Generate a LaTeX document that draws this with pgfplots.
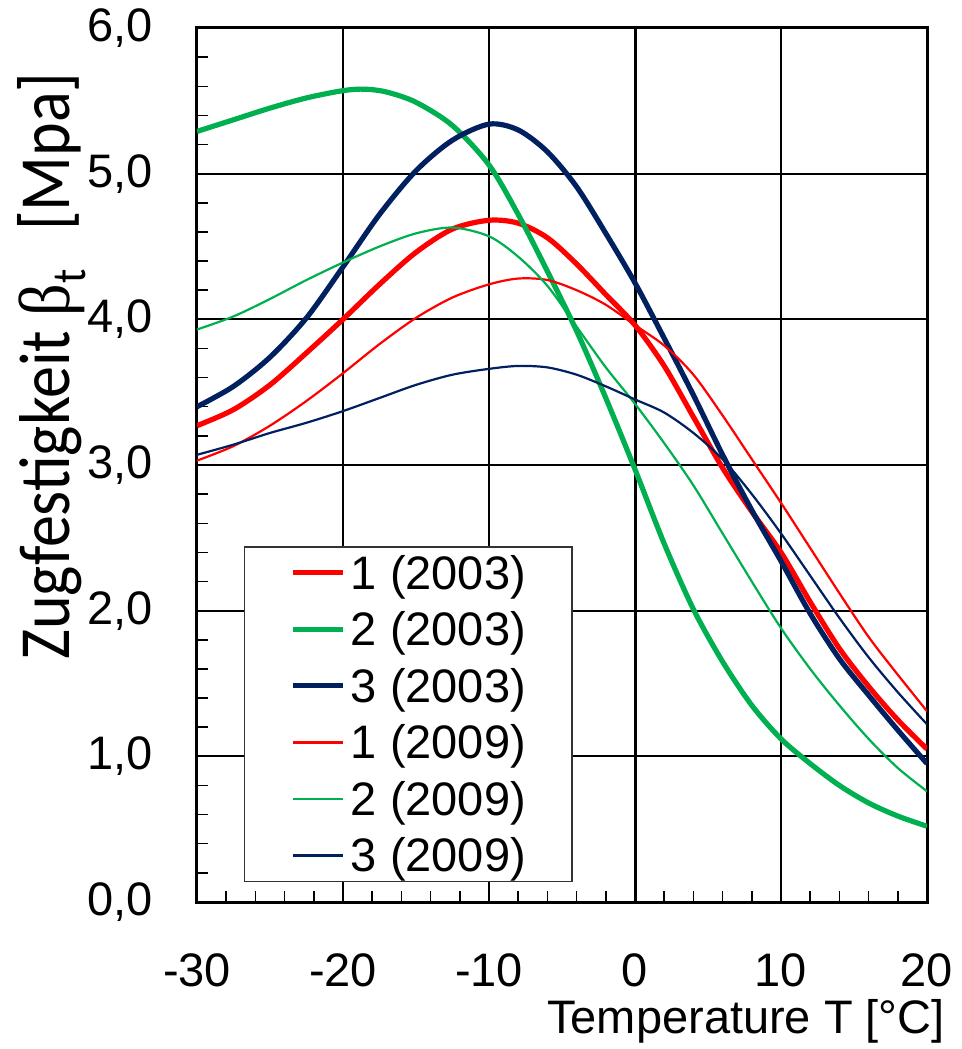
\documentclass[border=0pt]{standalone}
\usepackage{fontspec}
\setmainfont{Liberation Sans}
\newfontfamily\labelfont{Carlito}
\newfontfamily\greekfont{Liberation Serif}
\usepackage{graphicx}
\usepackage{pgfplots}
\pgfplotsset{compat=1.18}
\definecolor{cred}{RGB}{255,0,0}
\definecolor{cgreen}{RGB}{0,176,80}
\definecolor{cnavy}{RGB}{0,32,96}

\begin{document}
\begin{tikzpicture}
\path[use as bounding box] (-197pt,-147pt) rectangle (764pt,902pt);
\begin{axis}[
  at={(0,0)}, anchor=south west,
  scale only axis, width=730pt, height=874pt,
  xmin=-30, xmax=20, ymin=0, ymax=6,
  xtick={-30,-20,-10,0,10,20}, ytick={0,1,2,3,4,5,6},
  xticklabels={-30,-20,-10,0,10,20},
  yticklabels={{0,0},{1,0},{2,0},{3,0},{4,0},{5,0},{6,0}},
  minor x tick num=4, minor y tick num=4,
  tick pos=left, tick align=inside,
  major tick length=0pt, minor tick length=11pt,
  minor tick style={line width=1.5pt, black},
  grid=major, major grid style={line width=1.8pt, black},
  axis line style={line width=3pt},
  tick label style={font=\fontsize{47}{50}\selectfont, inner sep=0pt},
  yticklabel style={xshift=-44pt},
  xticklabel style={yshift=-51pt},
  extra x ticks={0}, extra x tick labels={},
  extra tick style={major grid style={line width=3pt, black}},
  xlabel={Temperature T [°C]},
  xlabel style={at={(rel axis cs:1,0)}, anchor=base east, inner sep=0pt,
    xshift=18pt, yshift=-131pt, font=\fontsize{47}{50}\selectfont},
  legend style={at={(rel axis cs:0.0644,0.0229)}, anchor=south west,
    draw=black!80, line width=1.3pt, inner xsep=46pt, inner ysep=8pt,
    font=\fontsize{47}{50}\selectfont, row sep=21pt, column sep=5pt,
    nodes={inner sep=0pt}},
  legend cell align=left,
  legend image code/.code={\draw[#1] (0pt,0pt) -- (50pt,0pt);},
]
% 1 (2003)
\addplot[cred, line width=5.2pt, smooth] coordinates {
(-30,3.27) (-27.5,3.38) (-25,3.55) (-22.5,3.77) (-20,4.00) (-17.5,4.24)
(-15,4.46) (-12.5,4.62) (-10,4.68) (-8,4.66) (-6,4.56) (-4,4.38) (-2,4.17)
(0,3.96) (2,3.68) (4,3.33) (6,2.98) (8,2.68) (10,2.40) (12,2.06) (14,1.74)
(16,1.48) (18,1.25) (20,1.05)};
% 2 (2003)
\addplot[cgreen, line width=5.2pt, smooth] coordinates {
(-30,5.29) (-27.5,5.37) (-25,5.45) (-22.5,5.52) (-20,5.57) (-18.5,5.58)
(-17,5.56) (-15,5.49) (-12.5,5.33) (-10,5.06) (-8,4.72) (-6,4.33)
(-4,3.92) (-2,3.46) (0,2.97) (2,2.46) (4,2.01) (6,1.65) (8,1.35) (10,1.12)
(12,0.95) (14,0.80) (16,0.68) (18,0.59) (20,0.52)};
% 3 (2003)
\addplot[cnavy, line width=5.2pt, smooth] coordinates {
(-30,3.40) (-27.5,3.54) (-25,3.74) (-22.5,4.01) (-20,4.36) (-17.5,4.72)
(-15,5.02) (-12.5,5.23) (-10,5.34) (-8,5.30) (-6,5.15) (-4,4.91) (-2,4.59)
(0,4.25) (2,3.87) (4,3.48) (6,3.07) (8,2.69) (10,2.34) (12,1.98) (14,1.67)
(16,1.42) (18,1.18) (20,0.95)};
% 1 (2009)
\addplot[cred, line width=2.2pt, smooth] coordinates {
(-30,3.03) (-27.5,3.13) (-25,3.27) (-22.5,3.44) (-20,3.63) (-17.5,3.83)
(-15,4.01) (-12.5,4.15) (-10,4.24) (-8,4.28) (-6,4.27) (-4,4.20) (-2,4.10)
(0,3.96) (2,3.82) (4,3.62) (6,3.34) (8,3.04) (10,2.74) (12,2.43) (14,2.12)
(16,1.82) (18,1.56) (20,1.31)};
% 2 (2009)
\addplot[cgreen, line width=2.2pt, smooth] coordinates {
(-30,3.93) (-27.5,4.02) (-25,4.14) (-22.5,4.27) (-20,4.39) (-17.5,4.50)
(-15,4.59) (-12.5,4.63) (-10,4.57) (-8,4.43) (-6,4.23) (-4,3.95)
(-2,3.67) (0,3.42) (2,3.15) (4,2.86) (6,2.53) (8,2.20) (10,1.88) (12,1.60)
(14,1.35) (16,1.12) (18,0.92) (20,0.76)};
% 3 (2009)
\addplot[cnavy, line width=2.2pt, smooth] coordinates {
(-30,3.07) (-27.5,3.14) (-25,3.22) (-22.5,3.29) (-20,3.37) (-17.5,3.46)
(-15,3.55) (-12.5,3.62) (-10,3.66) (-8,3.68) (-6,3.67) (-4,3.62) (-2,3.54)
(0,3.45) (2,3.36) (4,3.22) (6,3.04) (8,2.80) (10,2.53) (12,2.24) (14,1.95)
(16,1.68) (18,1.44) (20,1.22)};
\legend{1 (2003), 2 (2003), 3 (2003), 1 (2009), 2 (2009), 3 (2009)}
\end{axis}
\node[rotate=90, anchor=base west, inner sep=0pt,
  font=\labelfont\fontsize{72}{80}\selectfont] at (-127pt,242pt)
  {\scalebox{0.89}[1]{Zugfestigkeit {\greekfont β}\raisebox{-0.22em}{\fontsize{48}{50}\selectfont t}\hspace{0.6em}[Mpa]}};
\end{tikzpicture}
\end{document}
